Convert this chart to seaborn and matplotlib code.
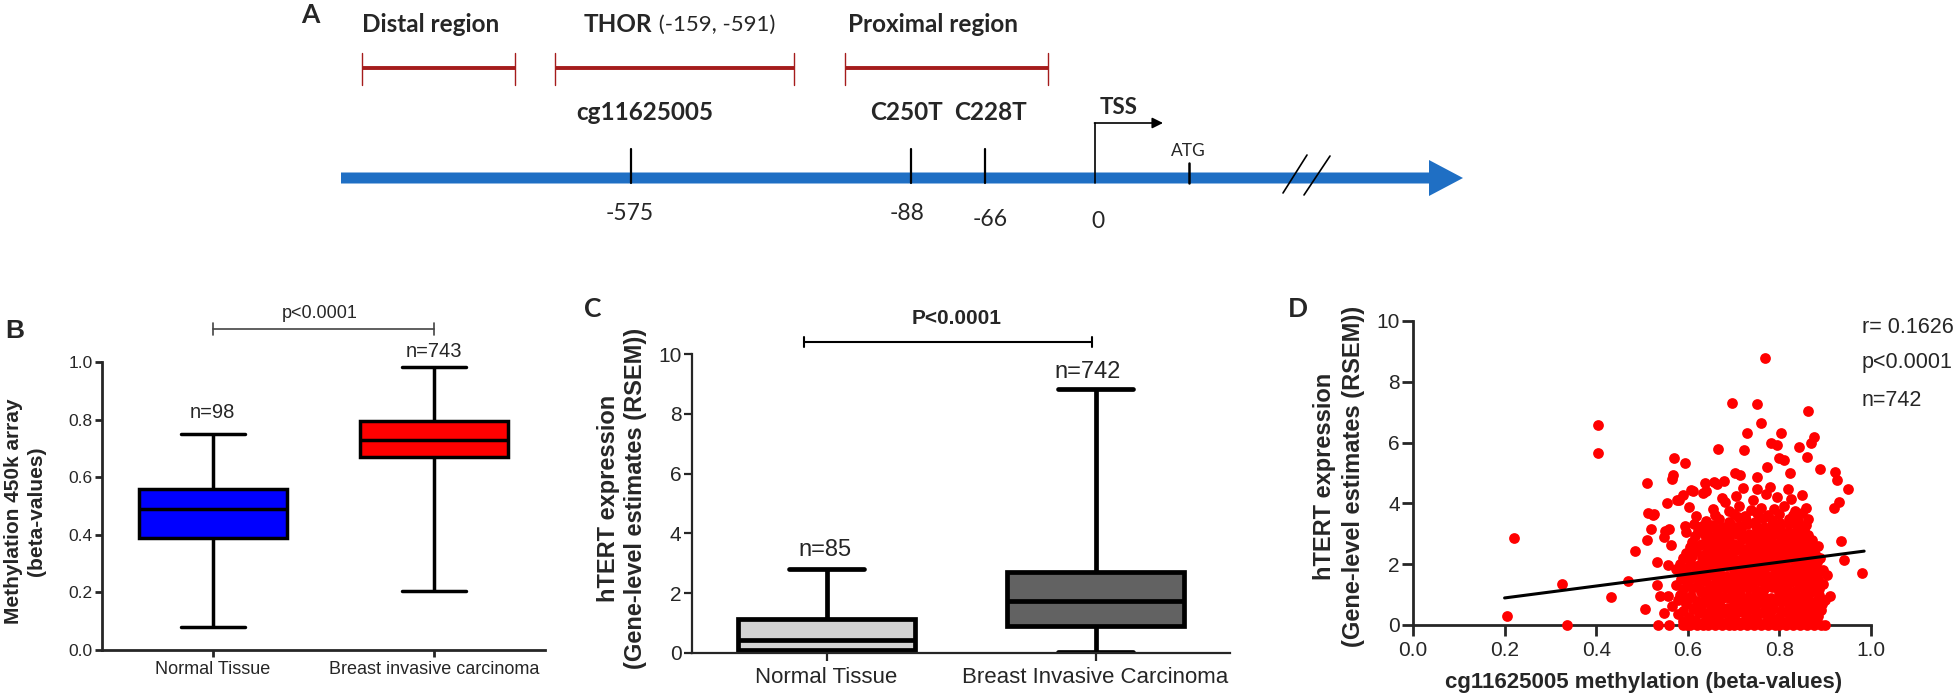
import numpy as np
import pandas as pd
import matplotlib
matplotlib.use("Agg")
import matplotlib.pyplot as plt
from matplotlib.patches import FancyArrow
import seaborn as sns

# ------------------------------------------------------------------ data
# Panel A (schematic of the hTERT promoter)
region_names = ["Distal region", "THOR", "Proximal region"]
thor_coords = " (-159, -591)"
site_names = ["cg11625005", "C250T", "C228T"]
site_coords = ["-575", "-88", "-66", "0"]
tss_label = "TSS"
atg_label = "ATG"

# Panel B: methylation 450k array (min, Q1, median, Q3, max)
groups_B = ["Normal Tissue", "Breast invasive carcinoma"]
normal_B = [0.08, 0.39, 0.49, 0.56, 0.75]
breast_B = [0.205, 0.67, 0.728, 0.795, 0.983]
n_B = ["n=98", "n=743"]
p_B = "p<0.0001"
yticks_B = [0.0, 0.2, 0.4, 0.6, 0.8, 1.0]
yticklabels_B = ["0.0", "0.2", "0.4", "0.6", "0.8", "1.0"]

# Panel C: hTERT expression (min, Q1, median, Q3, max)
groups_C = ["Normal Tissue", "Breast Invasive Carcinoma"]
normal_C = [0.0, 0.09, 0.43, 1.15, 2.82]
breast_C = [0.03, 0.89, 1.73, 2.71, 8.82]
n_C = ["n=85", "n=742"]
p_C = "P<0.0001"
yticks_C = [0, 2, 4, 6, 8, 10]

# Panel D: cg11625005 methylation vs hTERT expression
d_out_x = [0.206, 0.22, 0.326, 0.336, 0.404, 0.405, 0.432, 0.47, 0.485, 0.506,
           0.51, 0.512, 0.514, 0.527, 0.52, 0.532, 0.534, 0.532, 0.54, 0.547,
           0.548, 0.554, 0.56, 0.564, 0.568, 0.57, 0.574, 0.576, 0.593, 0.584,
           0.596, 0.598, 0.603, 0.608, 0.618, 0.633, 0.638, 0.658, 0.666, 0.678,
           0.682, 0.697, 0.704, 0.714, 0.722, 0.73, 0.752, 0.76, 0.769, 0.75,
           0.772, 0.782, 0.794, 0.803, 0.8, 0.811, 0.823, 0.843, 0.86, 0.862,
           0.868, 0.875, 0.888, 0.922, 0.925, 0.95, 0.93, 0.92, 0.935, 0.942,
           0.98, 0.9, 0.905, 0.91, 0.9, 0.895, 0.556, 0.566, 0.59, 0.611,
           0.64, 0.663, 0.58, 0.55, 0.593, 0.614, 0.524, 0.556]
d_out_y = [0.31, 2.85, 1.34, 0.0, 6.58, 5.65, 0.93, 1.45, 2.45, 0.53,
           4.66, 2.8, 3.7, 3.64, 3.15, 2.08, 0.0, 1.32, 0.95, 0.38,
           2.88, 4.0, 3.15, 2.63, 4.93, 5.48, 1.83, 4.11, 5.32, 0.99,
           3.07, 0.0, 3.89, 4.44, 3.59, 4.33, 4.66, 4.71, 5.78, 4.74,
           4.06, 7.29, 4.99, 4.93, 5.76, 6.3, 7.27, 6.63, 8.79, 4.88,
           5.21, 5.98, 5.92, 6.3, 5.48, 5.43, 4.99, 5.87, 5.54, 7.04,
           6.0, 6.17, 5.12, 5.04, 4.77, 4.47, 4.06, 3.84, 2.77, 2.14,
           1.7, 0.0, 1.64, 0.95, 0.82, 1.81, 1.97, 4.8, 4.27, 4.41,
           4.4, 4.64, 4.1, 3.1, 3.26, 3.33, 3.62, 0.95]
d_zero_x = [0.56, 0.59, 0.605, 0.62, 0.633, 0.645, 0.66, 0.675, 0.69, 0.70,
            0.715, 0.73, 0.745, 0.76, 0.775, 0.79, 0.80, 0.815, 0.83, 0.845,
            0.86, 0.875, 0.89]
d_zero_y = [0.0] * 23
d_clu_x = [
    0.578, 0.603, 0.624, 0.641, 0.659, 0.676, 0.694, 0.709, 0.727, 0.744, 0.761, 0.779, 0.796, 0.812, 0.83, 0.848, 0.866, 0.884,
    0.566, 0.595, 0.615, 0.633, 0.65, 0.668, 0.685, 0.701, 0.718, 0.736, 0.753, 0.77, 0.787, 0.804, 0.821, 0.839, 0.857, 0.875, 0.893,
    0.587, 0.607, 0.628, 0.645, 0.663, 0.68, 0.697, 0.714, 0.731, 0.748, 0.765, 0.782, 0.799, 0.816, 0.834, 0.852, 0.869, 0.886,
    0.575, 0.598, 0.619, 0.637, 0.654, 0.672, 0.689, 0.706, 0.723, 0.74, 0.757, 0.774, 0.791, 0.808, 0.825, 0.843, 0.861, 0.878, 0.896,
    0.592, 0.612, 0.631, 0.648, 0.666, 0.683, 0.70, 0.717, 0.734, 0.751, 0.768, 0.785, 0.802, 0.82, 0.837, 0.855, 0.872, 0.889,
    0.583, 0.604, 0.624, 0.642, 0.66, 0.677, 0.694, 0.711, 0.728, 0.745, 0.762, 0.779, 0.796, 0.813, 0.831, 0.849, 0.866, 0.883,
    0.597, 0.618, 0.637, 0.655, 0.672, 0.689, 0.706, 0.723, 0.74, 0.757, 0.774, 0.791, 0.808, 0.825, 0.842, 0.86, 0.877,
    0.61, 0.631, 0.649, 0.667, 0.684, 0.701, 0.718, 0.735, 0.752, 0.769, 0.786, 0.803, 0.82, 0.837, 0.854, 0.871,
    0.622, 0.645, 0.664, 0.682, 0.699, 0.716, 0.733, 0.75, 0.767, 0.784, 0.801, 0.818, 0.835, 0.853,
    0.64, 0.668, 0.689, 0.71, 0.728, 0.746, 0.765, 0.783, 0.802, 0.821, 0.84, 0.862,
    0.655, 0.69, 0.712, 0.738, 0.76, 0.788, 0.81, 0.835, 0.858,
    0.675, 0.705, 0.742, 0.77, 0.795, 0.826, 0.85,
    0.72, 0.752, 0.78, 0.818,
]
d_clu_y = [
    0.36, 0.25, 0.41, 0.30, 0.21, 0.39, 0.28, 0.44, 0.33, 0.22, 0.40, 0.31, 0.24, 0.43, 0.34, 0.27, 0.38, 0.30,
    0.62, 0.70, 0.58, 0.74, 0.63, 0.69, 0.56, 0.77, 0.64, 0.60, 0.72, 0.67, 0.55, 0.75, 0.66, 0.61, 0.73, 0.59, 0.70,
    1.02, 0.94, 1.08, 0.97, 1.05, 0.91, 1.10, 0.99, 0.93, 1.06, 1.00, 0.90, 1.09, 0.96, 1.04, 0.92, 1.07, 0.98,
    1.33, 1.40, 1.28, 1.44, 1.31, 1.37, 1.26, 1.42, 1.35, 1.29, 1.46, 1.32, 1.39, 1.27, 1.41, 1.34, 1.30, 1.43, 1.36,
    1.72, 1.65, 1.78, 1.68, 1.75, 1.62, 1.80, 1.70, 1.64, 1.77, 1.69, 1.61, 1.79, 1.66, 1.74, 1.71, 1.63, 1.76,
    2.02, 2.10, 1.98, 2.12, 2.04, 1.97, 2.09, 2.00, 2.14, 2.03, 1.96, 2.11, 2.05, 1.99, 2.13, 2.06, 2.01, 2.08,
    2.38, 2.45, 2.33, 2.48, 2.40, 2.35, 2.47, 2.36, 2.43, 2.31, 2.44, 2.39, 2.34, 2.46, 2.37, 2.42, 2.32,
    2.74, 2.68, 2.80, 2.71, 2.77, 2.66, 2.82, 2.73, 2.69, 2.79, 2.70, 2.76, 2.65, 2.81, 2.72, 2.78,
    3.08, 3.15, 3.02, 3.12, 3.05, 3.18, 3.00, 3.10, 3.16, 3.04, 3.13, 3.07, 3.01, 3.14,
    3.42, 3.50, 3.38, 3.55, 3.44, 3.40, 3.52, 3.46, 3.36, 3.50, 3.43, 3.48,
    3.82, 3.75, 3.90, 3.78, 3.86, 3.80, 3.92, 3.74, 3.85,
    4.18, 4.25, 4.12, 4.30, 4.20, 4.15, 4.28,
    4.52, 4.48, 4.55, 4.46,
]
d_fill_x = [
    0.59, 0.615, 0.635, 0.652, 0.668, 0.685, 0.702, 0.718, 0.735, 0.752, 0.77, 0.787, 0.804, 0.821, 0.839, 0.857, 0.875,
    0.59, 0.611, 0.632, 0.65, 0.667, 0.684, 0.701, 0.718, 0.735, 0.752, 0.769, 0.786, 0.803, 0.82, 0.838, 0.856, 0.874, 0.89,
    0.578, 0.60, 0.62, 0.638, 0.656, 0.673, 0.69, 0.707, 0.724, 0.741, 0.758, 0.775, 0.792, 0.809, 0.826, 0.844, 0.862, 0.88,
    0.589, 0.61, 0.629, 0.646, 0.664, 0.681, 0.698, 0.715, 0.732, 0.749, 0.766, 0.783, 0.80, 0.817, 0.835, 0.853, 0.87, 0.887,
    0.585, 0.606, 0.625, 0.643, 0.661, 0.678, 0.695, 0.712, 0.729, 0.746, 0.763, 0.78, 0.797, 0.815, 0.832, 0.85, 0.867, 0.884,
    0.596, 0.616, 0.635, 0.653, 0.67, 0.687, 0.704, 0.721, 0.738, 0.755, 0.772, 0.789, 0.806, 0.823, 0.841, 0.858, 0.876,
    0.59, 0.61, 0.63, 0.648, 0.665, 0.682, 0.699, 0.716, 0.733, 0.75, 0.767, 0.784, 0.801, 0.818, 0.836, 0.853, 0.871, 0.888,
    0.605, 0.626, 0.645, 0.663, 0.68, 0.697, 0.714, 0.731, 0.748, 0.765, 0.782, 0.799, 0.816, 0.833, 0.85, 0.868, 0.885,
    0.615, 0.637, 0.656, 0.674, 0.691, 0.708, 0.725, 0.742, 0.759, 0.776, 0.793, 0.81, 0.827, 0.845, 0.863,
    0.632, 0.655, 0.675, 0.694, 0.712, 0.73, 0.748, 0.766, 0.784, 0.802, 0.82, 0.838, 0.857,
    0.66, 0.70, 0.725, 0.752, 0.775, 0.80, 0.83, 0.85,
]
d_fill_y = [
    0.12, 0.16, 0.10, 0.18, 0.13, 0.09, 0.15, 0.11, 0.17, 0.14, 0.10, 0.16, 0.12, 0.18, 0.11, 0.15, 0.13,
    0.47, 0.52, 0.45, 0.50, 0.44, 0.53, 0.48, 0.46, 0.51, 0.43, 0.49, 0.54, 0.47, 0.45, 0.50, 0.52, 0.46, 0.49,
    0.82, 0.86, 0.80, 0.85, 0.79, 0.84, 0.88, 0.81, 0.83, 0.87, 0.80, 0.85, 0.82, 0.89, 0.81, 0.84, 0.86, 0.80,
    1.17, 1.21, 1.14, 1.20, 1.16, 1.23, 1.13, 1.19, 1.22, 1.15, 1.18, 1.24, 1.16, 1.20, 1.13, 1.19, 1.22, 1.17,
    1.52, 1.56, 1.50, 1.57, 1.53, 1.49, 1.55, 1.58, 1.51, 1.54, 1.50, 1.57, 1.52, 1.55, 1.49, 1.56, 1.53, 1.51,
    1.87, 1.92, 1.85, 1.90, 1.86, 1.93, 1.88, 1.84, 1.91, 1.87, 1.94, 1.86, 1.89, 1.85, 1.92, 1.88, 1.90,
    2.21, 2.26, 2.19, 2.24, 2.20, 2.27, 2.22, 2.18, 2.25, 2.21, 2.28, 2.20, 2.23, 2.19, 2.26, 2.22, 2.24, 2.20,
    2.57, 2.62, 2.55, 2.60, 2.56, 2.63, 2.58, 2.54, 2.61, 2.57, 2.64, 2.56, 2.59, 2.55, 2.62, 2.58, 2.60,
    2.92, 2.97, 2.90, 2.95, 2.91, 2.98, 2.93, 2.89, 2.96, 2.92, 2.99, 2.91, 2.94, 2.90, 2.96,
    3.26, 3.30, 3.24, 3.29, 3.25, 3.32, 3.27, 3.23, 3.30, 3.26, 3.31, 3.25, 3.28,
    3.62, 3.66, 3.60, 3.68, 3.63, 3.65, 3.61, 3.67,
]
fit_x = [0.2, 0.985]
fit_y = [0.89, 2.43]
stats_D = ["r= 0.1626", "p<0.0001", "n=742"]
xticks_D = [0.0, 0.2, 0.4, 0.6, 0.8, 1.0]
xticklabels_D = ["0.0", "0.2", "0.4", "0.6", "0.8", "1.0"]
yticks_D = [0, 2, 4, 6, 8, 10]
ylabel_expr = "hTERT expression\n(Gene-level estimates (RSEM))"
ylabel_meth = "Methylation 450k array\n(beta-values)"
xlabel_D = "cg11625005 methylation (beta-values)"

# ------------------------------------------------------------------ style
sns.set_style("ticks")
plt.rcParams["font.family"] = ["Liberation Sans", "DejaVu Sans"]
SCHEM = ["Lato", "DejaVu Sans"]

W, H = 1960, 698
fig = plt.figure(figsize=(W / 100, H / 100), dpi=100)


def rect(x0, x1, ytop, ybot):
    return [x0 / W, 1 - ybot / H, (x1 - x0) / W, (ybot - ytop) / H]


# ------------------------------------------------------------------ panel A
axA = fig.add_axes([0, 0, 1, 1])
axA.set_xlim(0, W)
axA.set_ylim(H, 0)
axA.axis("off")

red = "#A51C1C"
blue = "#1F6FC4"
reg_x0 = [362, 555, 845]
reg_x1 = [515, 794, 1048]
reg_lab_x = [362, 584, 848]
for i, name in enumerate(region_names):
    axA.plot([reg_x0[i], reg_x1[i]], [68, 68], color=red, lw=2.8, solid_capstyle="butt")
    for xe in (reg_x0[i], reg_x1[i]):
        axA.plot([xe, xe], [53, 85], color=red, lw=1.0)
    t = axA.text(reg_lab_x[i], 25, name, family=SCHEM, weight="bold", fontsize=17.5,
                 ha="left", va="center")
    if name == "THOR":
        axA.annotate(thor_coords, xy=(1, 0.5), xycoords=t, family=SCHEM, fontsize=16,
                     ha="left", va="center")

arrow = FancyArrow(341, 178, 1463 - 341, 0, width=11, head_width=36, head_length=34,
                   length_includes_head=True, color=blue, lw=0)
axA.add_patch(arrow)

site_x = [631, 911, 985]
site_lab_x = [645, 906, 990]
for i, name in enumerate(site_names):
    axA.plot([site_x[i], site_x[i]], [149, 183], color="black", lw=1.6)
    axA.text(site_lab_x[i], 112, name, family=SCHEM, weight="bold", fontsize=17.5,
             ha="center", va="center")

coord_x = [630, 907, 990, 1098]
coord_y = [213, 213, 220, 222]
for i, c in enumerate(site_coords):
    axA.text(coord_x[i], coord_y[i], c, family=SCHEM, fontsize=16.5, ha="center", va="center")

# TSS bent arrow
axA.plot([1095, 1095], [183, 123], color="black", lw=1.2)
axA.annotate("", xy=(1163, 123), xytext=(1094.5, 123),
             arrowprops=dict(arrowstyle="-|>", color="black", lw=1.2, mutation_scale=16,
                             shrinkA=0, shrinkB=0))
axA.text(1100, 108, tss_label, family=SCHEM, weight="bold", fontsize=16, ha="left", va="center")
axA.plot([1189, 1189], [163, 183], color="black", lw=1.8)
axA.text(1188, 151, atg_label, family=SCHEM, fontsize=12.5, ha="center", va="center")
axA.plot([1283, 1307], [193, 155], color="black", lw=1.2)
axA.plot([1304, 1330], [195, 156], color="black", lw=1.2)

axA.text(310, 15, "A", family=SCHEM, weight="bold", fontsize=19, ha="center", va="center")
axA.text(15, 331, "B", weight="bold", fontsize=19, ha="center", va="center")
axA.text(593, 309, "C", family=SCHEM, weight="bold", fontsize=19, ha="center", va="center")
axA.text(1298, 309, "D", family=SCHEM, weight="bold", fontsize=19, ha="center", va="center")


def style_axes(ax, spine_w, tick_len, ylabsize, xlabsize, xpad):
    sns.despine(ax=ax)
    for s in ("left", "bottom"):
        ax.spines[s].set_linewidth(spine_w)
    ax.tick_params(axis="y", length=tick_len, width=spine_w, labelsize=ylabsize, pad=1.5)
    ax.tick_params(axis="x", length=tick_len, width=spine_w, labelsize=xlabsize, pad=xpad)


# ------------------------------------------------------------------ panel B
axB = fig.add_axes(rect(102, 545, 362, 650))
dfB = pd.DataFrame({"group": np.repeat(groups_B, 5),
                    "value": normal_B + breast_B})
sns.boxplot(data=dfB, x="group", y="value", hue="group",
            palette={groups_B[0]: "#0000FF", groups_B[1]: "#FF0000"},
            width=0.67, linewidth=2.5, linecolor="black", whis=(0, 100),
            saturation=1, showfliers=False, legend=False, capwidths=0.29, ax=axB)
axB.set_xlim(-0.5, 1.5)
axB.set_ylim(0, 1.0)
axB.set_yticks(yticks_B)
axB.set_yticklabels(yticklabels_B)
axB.set_xlabel("")
axB.set_ylabel(ylabel_meth, fontsize=15, weight="bold", linespacing=1.25)
axB.yaxis.label.set_verticalalignment("center")
axB.yaxis.set_label_coords(-0.174, 0.483)
style_axes(axB, 2.0, 5, 12.5, 13, 3)
# significance bracket
axB.plot([0, 1], [1.115, 1.115], color="#444444", lw=1.2, clip_on=False)
for xe in (0, 1):
    axB.plot([xe, xe], [1.093, 1.137], color="#444444", lw=1.2, clip_on=False)
axB.text(0.484, 1.17, p_B, fontsize=13, ha="center", va="center")
axB.text(0.0, 0.823, n_B[0], fontsize=14.5, ha="center", va="center")
axB.text(1.0, 1.035, n_B[1], fontsize=14.5, ha="center", va="center")

# ------------------------------------------------------------------ panel C
axC = fig.add_axes(rect(692, 1230, 354, 653))
dfC = pd.DataFrame({"group": np.repeat(groups_C, 5),
                    "value": normal_C + breast_C})
sns.boxplot(data=dfC, x="group", y="value", hue="group",
            palette={groups_C[0]: "#D3D3D3", groups_C[1]: "#626262"},
            width=0.655, linewidth=3.4, linecolor="black", whis=(0, 100),
            saturation=1, showfliers=False, legend=False, capwidths=0.28, ax=axC)
axC.set_xlim(-0.5, 1.5)
axC.set_ylim(0, 10)
axC.set_yticks(yticks_C)
axC.set_xlabel("")
axC.set_ylabel(ylabel_expr, fontsize=17, weight="bold", linespacing=1.2)
axC.yaxis.label.set_verticalalignment("center")
axC.yaxis.set_label_coords(-0.130, 0.518)
style_axes(axC, 1.6, 6, 15, 16, 4)
axC.plot([-0.084, 0.987], [10.4, 10.4], color="black", lw=1.5, clip_on=False)
for xe in (-0.084, 0.987):
    axC.plot([xe, xe], [10.22, 10.58], color="black", lw=1.5, clip_on=False)
axC.text(0.485, 11.2, p_C, fontsize=15, weight="bold", ha="center", va="center")
axC.text(-0.006, 3.44, n_C[0], fontsize=17, ha="center", va="center")
axC.text(0.972, 9.4, n_C[1], fontsize=17, ha="center", va="center")

# ------------------------------------------------------------------ panel D
axD = fig.add_axes(rect(1413, 1871, 321, 625))
dx = d_out_x + d_zero_x + d_clu_x + d_fill_x
dy = d_out_y + d_zero_y + d_clu_y + d_fill_y
sns.scatterplot(x=dx, y=dy, color="#FF0000", s=60, linewidth=0, clip_on=False,
                zorder=3, ax=axD)
axD.plot(fit_x, fit_y, color="black", lw=2.2, zorder=4)
axD.set_xlim(0, 1.0)
axD.set_ylim(0, 10)
axD.set_xticks(xticks_D)
axD.set_xticklabels(xticklabels_D)
axD.set_yticks(yticks_D)
axD.set_ylabel(ylabel_expr, fontsize=17, weight="bold", linespacing=1.35)
axD.yaxis.label.set_verticalalignment("center")
axD.yaxis.set_label_coords(-0.162, 0.49)
axD.set_xlabel(xlabel_D, fontsize=16, weight="bold")
axD.xaxis.set_label_coords(0.504, -0.19)
axD.xaxis.label.set_verticalalignment("center")
style_axes(axD, 2.0, 8, 15, 15, 3.5)
for s, yy in zip(stats_D, [9.8, 8.62, 7.4]):
    axD.text(0.98, yy, s, fontsize=15.5, ha="left", va="center", clip_on=False)

fig.savefig("out.png", dpi=100)
